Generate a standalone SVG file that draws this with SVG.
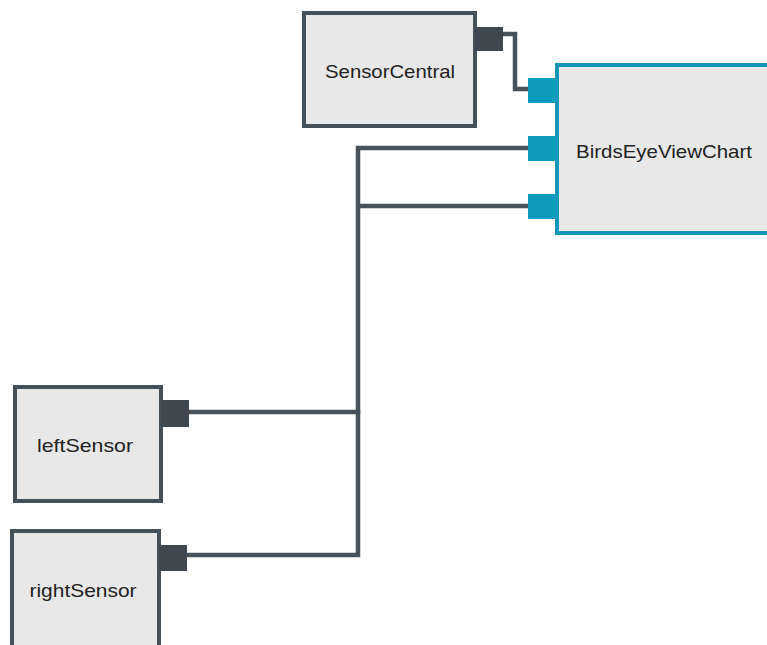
<svg xmlns="http://www.w3.org/2000/svg" width="767" height="645" viewBox="0 0 767 645">
<style>
.box{fill:#e8e8e8;stroke:#465058;stroke-width:4}
.sel{fill:#e8e8e8;stroke:#1597b9;stroke-width:4}
.out{fill:#3f4850}
.in{fill:#0d9bbd}
.lbl{font-family:"Liberation Sans",Arial,sans-serif;font-size:19px;fill:#222;text-anchor:middle}
.wire{fill:none;stroke:#48525a;stroke-width:4.5}
</style>
<rect width="767" height="645" fill="#ffffff"/>
<g id="connectors">
<path class="wire" d="M503 34 H515 V89 H530"/>
<path class="wire" d="M187 412 H358 V148 H530"/>
<path class="wire" d="M185 555 H358 V410"/>
<path class="wire" d="M358 206 H530"/>
</g>
<g id="SensorCentral">
<rect class="box" x="304" y="13" width="171" height="113"/>
<rect class="out" x="475" y="27" width="28" height="24"/>
<text class="lbl" x="390" y="78" textLength="130" lengthAdjust="spacingAndGlyphs">SensorCentral</text>
</g>
<g id="BirdsEyeViewChart">
<rect class="sel" x="557" y="65" width="220" height="168"/>
<rect class="in" x="528" y="78" width="28" height="25"/>
<rect class="in" x="528" y="136" width="28" height="25"/>
<rect class="in" x="528" y="194" width="28" height="25"/>
<text class="lbl" x="664" y="158" textLength="176" lengthAdjust="spacingAndGlyphs">BirdsEyeViewChart</text>
</g>
<g id="leftSensor">
<rect class="box" x="15" y="387" width="146" height="114"/>
<rect class="out" x="161" y="400" width="28" height="27"/>
<text class="lbl" x="85" y="452" textLength="96" lengthAdjust="spacingAndGlyphs">leftSensor</text>
</g>
<g id="rightSensor">
<rect class="box" x="12" y="531" width="147" height="130"/>
<rect class="out" x="159" y="545" width="28" height="26"/>
<text class="lbl" x="83" y="597" textLength="107" lengthAdjust="spacingAndGlyphs">rightSensor</text>
</g>
</svg>
